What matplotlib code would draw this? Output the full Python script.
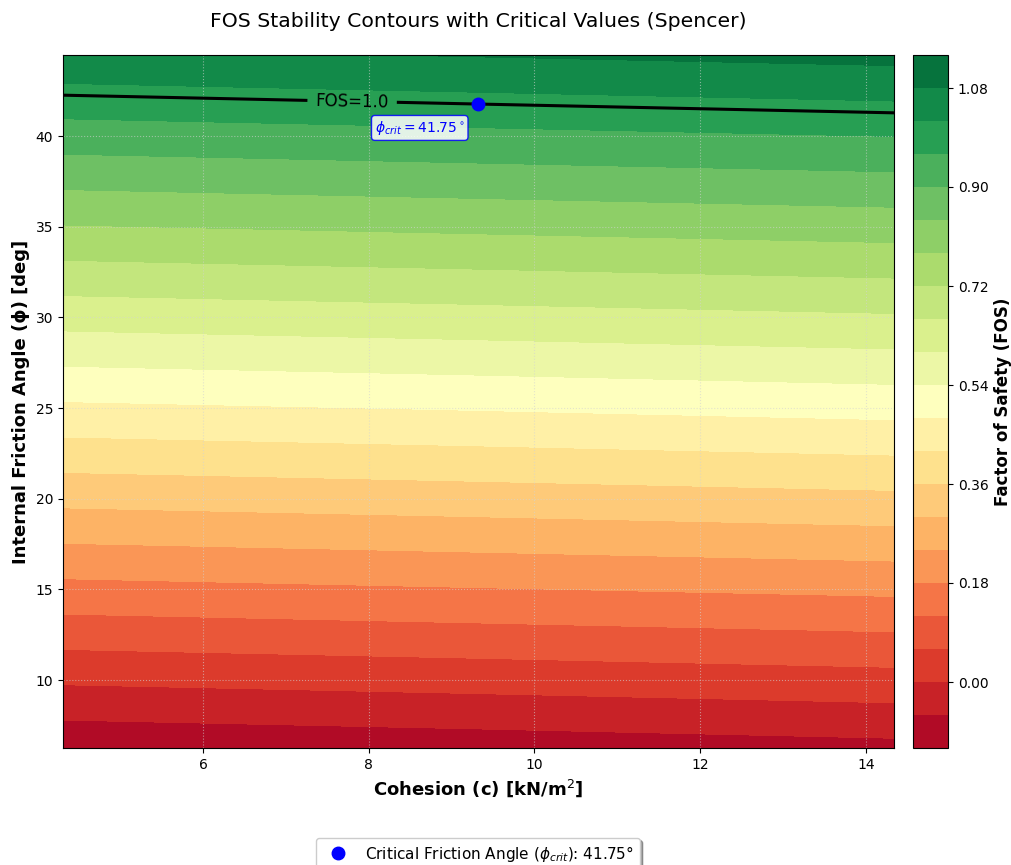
import numpy as np
import matplotlib.pyplot as plt

# FOS values, on a coarse (cohesion x friction angle) grid
cohesion = [4.3, 9.3, 14.35]                  # kN/m2
friction_angle = [6.2, 15.0, 25.0, 35.0, 44.5]  # deg
fos = [
    [-0.109, -0.094, -0.078],
    [0.162, 0.177, 0.192],
    [0.469, 0.484, 0.500],
    [0.777, 0.792, 0.807],
    [1.069, 1.084, 1.099],
]
fos_levels = [-0.12, -0.06, 0.00, 0.06, 0.12, 0.18, 0.24, 0.30, 0.36, 0.42, 0.48,
              0.54, 0.60, 0.66, 0.72, 0.78, 0.84, 0.90, 0.96, 1.02, 1.08, 1.14]
cbar_ticks = [0.00, 0.18, 0.36, 0.54, 0.72, 0.90, 1.08]

c_crit = 9.32
phi_crit = 41.75

fig = plt.figure(figsize=(10.11, 8.65), dpi=100)
W, H = 1011, 865
ax = fig.add_axes([63 / W, 1 - 748 / H, (894 - 63) / W, (748 - 55) / H])
cax = fig.add_axes([913 / W, 1 - 748 / H, (948 - 913) / W, (748 - 55) / H])

C, P = np.meshgrid(cohesion, friction_angle)
Z = np.array(fos)

cf = ax.contourf(C, P, Z, levels=fos_levels, cmap='RdYlGn')
cs = ax.contour(C, P, Z, levels=[1.0], colors='black', linewidths=2.2)
ax.clabel(cs, fmt={1.0: 'FOS=1.0'}, fontsize=12, inline=True, inline_spacing=8,
          manual=[(7.8, 42.0)])

ax.plot(c_crit, phi_crit, 'o', color='blue', markersize=9,
        label=r'Critical Friction Angle ($\phi_{crit}$): ' + f'{phi_crit:.2f}°')
ax.annotate(r'$\phi_{crit} = %.2f^\circ$' % phi_crit, xy=(c_crit, phi_crit),
            xytext=(-42, -17), textcoords='offset points', ha='center', va='center',
            fontsize=10, color='blue',
            bbox=dict(boxstyle='round,pad=0.25', fc='white', ec='blue', alpha=0.85))

ax.set_xlim(4.31, 14.34)
ax.set_ylim(6.25, 44.47)
ax.grid(True, linestyle=':', color='lightgray', alpha=0.6)
ax.set_xlabel(r'Cohesion (c) [kN/m$^2$]', fontsize=13, fontweight='bold')
ax.set_ylabel('Internal Friction Angle (ϕ) [deg]', fontsize=13, fontweight='bold')
ax.set_title('FOS Stability Contours with Critical Values (Spencer)', fontsize=14.7, pad=20)

cb = fig.colorbar(cf, cax=cax, ticks=cbar_ticks)
cb.ax.set_yticklabels([f'{t:.2f}' for t in cbar_ticks])
cb.set_label('Factor of Safety (FOS)', fontsize=12, fontweight='bold')

fig.legend(loc='upper center', bbox_to_anchor=(478 / W, 1 - 830 / H), fontsize=11,
           shadow=True, frameon=True)

fig.savefig('out.png', dpi=100)
